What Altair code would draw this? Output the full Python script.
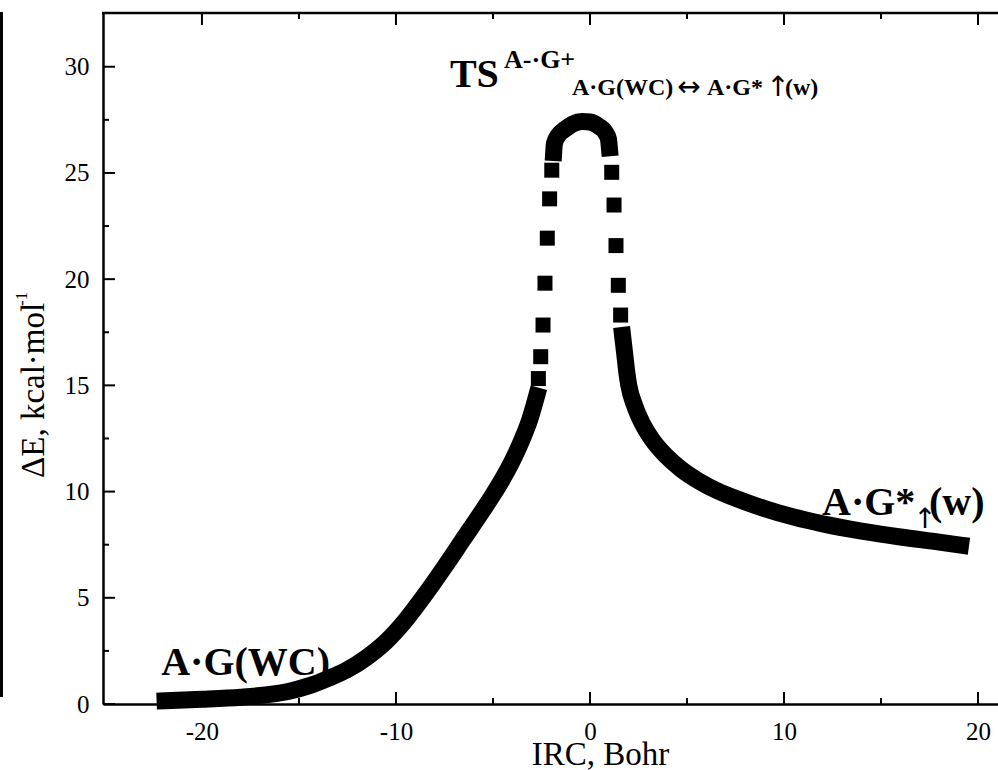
import altair as alt
import pandas as pd

# ---------------- data ----------------
# reactant-side branch (dense run of markers, drawn as a continuous band)
reactant_irc = [-21.9, -20.0, -18.0, -16.5, -15.5, -14.5, -13.5, -12.5, -11.5, -10.5,
                -9.5, -8.5, -7.5, -6.5, -5.5, -5.0, -4.5, -4.0, -3.5, -3.1, -2.75]
reactant_de = [0.15, 0.22, 0.32, 0.45, 0.6, 0.85, 1.2, 1.62, 2.2, 2.95,
               3.95, 5.15, 6.45, 7.8, 9.15, 9.85, 10.6, 11.45, 12.45, 13.4, 14.5]
# isolated markers on the steep left flank
steep_left_irc = [-2.66, -2.54, -2.42, -2.32, -2.20, -2.08, -1.97]
steep_left_de = [15.32, 16.35, 17.84, 19.81, 21.93, 23.78, 25.13]
# dense markers over the barrier top
top_irc = [-1.87, -1.83, -1.65, -1.3, -0.9, -0.4, 0.0, 0.45, 0.8, 0.95, 1.0]
top_de = [25.96, 26.4, 26.75, 27.05, 27.3, 27.42, 27.4, 27.2, 26.9, 26.6, 26.19]
# isolated markers on the steep right flank
steep_right_irc = [1.12, 1.24, 1.34, 1.46, 1.58]
steep_right_de = [25.03, 23.49, 21.58, 19.71, 18.31]
# product-side branch (dense run)
product_irc = [1.68, 1.8, 1.9, 2.0, 2.3, 2.7, 3.2, 3.9, 4.7, 5.6, 6.6, 7.8, 9.0,
               10.5, 12.0, 14.0, 16.0, 18.0, 19.1]
product_de = [17.35, 16.4, 15.6, 15.0, 14.05, 13.2, 12.45, 11.7, 11.05, 10.5, 10.02,
              9.58, 9.2, 8.8, 8.48, 8.14, 7.86, 7.62, 7.48]

x_major = [-20, -10, 0, 10, 20]
x_minor = [-15, -5, 5, 15]
y_major = [0, 5, 10, 15, 20, 25, 30]
y_minor = [2.5, 7.5, 12.5, 17.5, 22.5, 27.5]

# large bold labels
big_labels = ["A·G(WC)", "A·G*", "(w)", "TS"]
big_irc = [-22.1, 11.96, 17.47, -7.22]
big_de = [1.37, 8.9, 8.9, 29.05]
# subscript pieces of the TS label
sub_labels = ["A·G(WC)", "A·G*", "(w)"]
sub_irc = [-0.93, 6.03, 10.05]
sub_de = [28.67, 28.67, 28.67]
# arrow glyphs
arrow_labels = ["↔", "↑", "↑"]
arrow_irc = [5.10, 9.69, 17.27]
arrow_de = [28.62, 28.62, 8.27]

# ---------------- tables ----------------
dense = pd.concat([
    pd.DataFrame({"irc": reactant_irc, "de": reactant_de, "part": "reactant"}),
    pd.DataFrame({"irc": top_irc, "de": top_de, "part": "top"}),
    pd.DataFrame({"irc": product_irc, "de": product_de, "part": "product"}),
])
sparse = pd.DataFrame({"irc": steep_left_irc + steep_right_irc,
                       "de": steep_left_de + steep_right_de})

W, H = 895, 691
XD = [-25.1, 21.03]
YD = [0, 32.53]
FONT = "Liberation Serif, DejaVu Sans, serif"
ARROW_FONT = "DejaVu Sans, sans-serif"

xs = alt.Scale(domain=XD, nice=False, zero=False)
ys = alt.Scale(domain=YD, nice=False, zero=False)

x_axis = alt.Axis(values=x_major, ticks=False, grid=False, domain=True, domainColor="black",
                  domainWidth=2.5, labelFont=FONT, labelFontSize=25, labelColor="black",
                  labelPadding=15, labelOverlap=False, labelFlush=False,
                  labelExpr="'' + datum.value",
                  title="IRC, Bohr", titleFont=FONT, titleFontSize=33, titleFontWeight="normal",
                  titleColor="black", titleX=497, titleY=60, titleAlign="center",
                  titleBaseline="alphabetic")
y_axis = alt.Axis(values=y_major, ticks=False, grid=False, domain=True, domainColor="black",
                  domainWidth=2.5, labelFont=FONT, labelFontSize=25, labelColor="black",
                  labelPadding=14, labelOverlap=False, labelFlush=False,
                  labelExpr="'' + datum.value", title="")

band = alt.Chart(dense).mark_line(color="black", strokeWidth=17, strokeCap="square",
                                  strokeJoin="round", interpolate="monotone").encode(
    x=alt.X("irc:Q", scale=xs, axis=x_axis),
    y=alt.Y("de:Q", scale=ys, axis=y_axis),
    detail="part:N",
)
pts = alt.Chart(sparse).mark_square(size=225, color="black", opacity=1).encode(
    x=alt.X("irc:Q", scale=xs), y=alt.Y("de:Q", scale=ys))

def xticks(vals, length):
    d = pd.DataFrame({"v": vals})
    bot = alt.Chart(d).mark_rule(color="black", strokeWidth=2).encode(
        x=alt.X("v:Q", scale=xs), y=alt.value(H), y2=alt.value(H - length))
    top = alt.Chart(d).mark_rule(color="black", strokeWidth=2).encode(
        x=alt.X("v:Q", scale=xs), y=alt.value(0), y2=alt.value(length))
    return [bot, top]

def yticks(vals, length):
    d = pd.DataFrame({"v": vals})
    left = alt.Chart(d).mark_rule(color="black", strokeWidth=2).encode(
        y=alt.Y("v:Q", scale=ys), x=alt.value(0), x2=alt.value(length))
    return [left]

frame_top = alt.Chart(pd.DataFrame({"a": [0]})).mark_rule(color="black", strokeWidth=2.5).encode(
    x=alt.value(-1), x2=alt.value(W), y=alt.value(0))
edge_line = alt.Chart(pd.DataFrame({"a": [0]})).mark_rule(color="black", strokeWidth=3).encode(
    x=alt.value(-101.5), y=alt.value(-1), y2=alt.value(684))

# y-axis title as rotated text (main part + superscript)
ytitle = alt.Chart(pd.DataFrame({"t": ["ΔE, kcal·mol"]})).mark_text(
    font=FONT, fontSize=33, angle=270, align="left", baseline="alphabetic", color="black").encode(
    x=alt.value(-59), y=alt.value(465), text="t:N")
ytitle_sup = alt.Chart(pd.DataFrame({"t": ["-1"]})).mark_text(
    font=FONT, fontSize=17, angle=270, align="left", baseline="alphabetic", color="black").encode(
    x=alt.value(-76), y=alt.value(293), text="t:N")

big = alt.Chart(pd.DataFrame({"t": big_labels, "irc": big_irc, "de": big_de})).mark_text(
    font=FONT, fontSize=40, fontWeight="bold", align="left", baseline="alphabetic",
    color="black").encode(x=alt.X("irc:Q", scale=xs), y=alt.Y("de:Q", scale=ys), text="t:N")
sup = alt.Chart(pd.DataFrame({"t": ["A-·G+"], "irc": [-4.43], "de": [29.94]})).mark_text(
    font=FONT, fontSize=26, fontWeight="bold", align="left", baseline="alphabetic",
    color="black").encode(x=alt.X("irc:Q", scale=xs), y=alt.Y("de:Q", scale=ys), text="t:N")
sub = alt.Chart(pd.DataFrame({"t": sub_labels, "irc": sub_irc, "de": sub_de})).mark_text(
    font=FONT, fontSize=24, fontWeight="bold", align="left", baseline="alphabetic",
    color="black").encode(x=alt.X("irc:Q", scale=xs), y=alt.Y("de:Q", scale=ys), text="t:N")
arrows = alt.Chart(pd.DataFrame({"t": arrow_labels, "irc": arrow_irc, "de": arrow_de})).mark_text(
    font=ARROW_FONT, fontSize=28, align="center", baseline="alphabetic", color="black").encode(
    x=alt.X("irc:Q", scale=xs), y=alt.Y("de:Q", scale=ys), text="t:N")

layers = [band, pts] + xticks(x_major, 12) + xticks(x_minor, 6) + yticks(y_major, 12) \
    + yticks(y_minor, 6) + [frame_top, edge_line, ytitle, ytitle_sup, big, sup, sub, arrows]

chart = alt.layer(*layers).properties(
    width=W, height=H,
    padding={"left": 103, "top": 13, "right": 0, "bottom": 66},
    autosize=alt.AutoSizeParams(type="none"),
    background="white",
).configure_view(strokeWidth=0)

chart.save("out.html", embed_options={"renderer": "svg", "actions": False})
